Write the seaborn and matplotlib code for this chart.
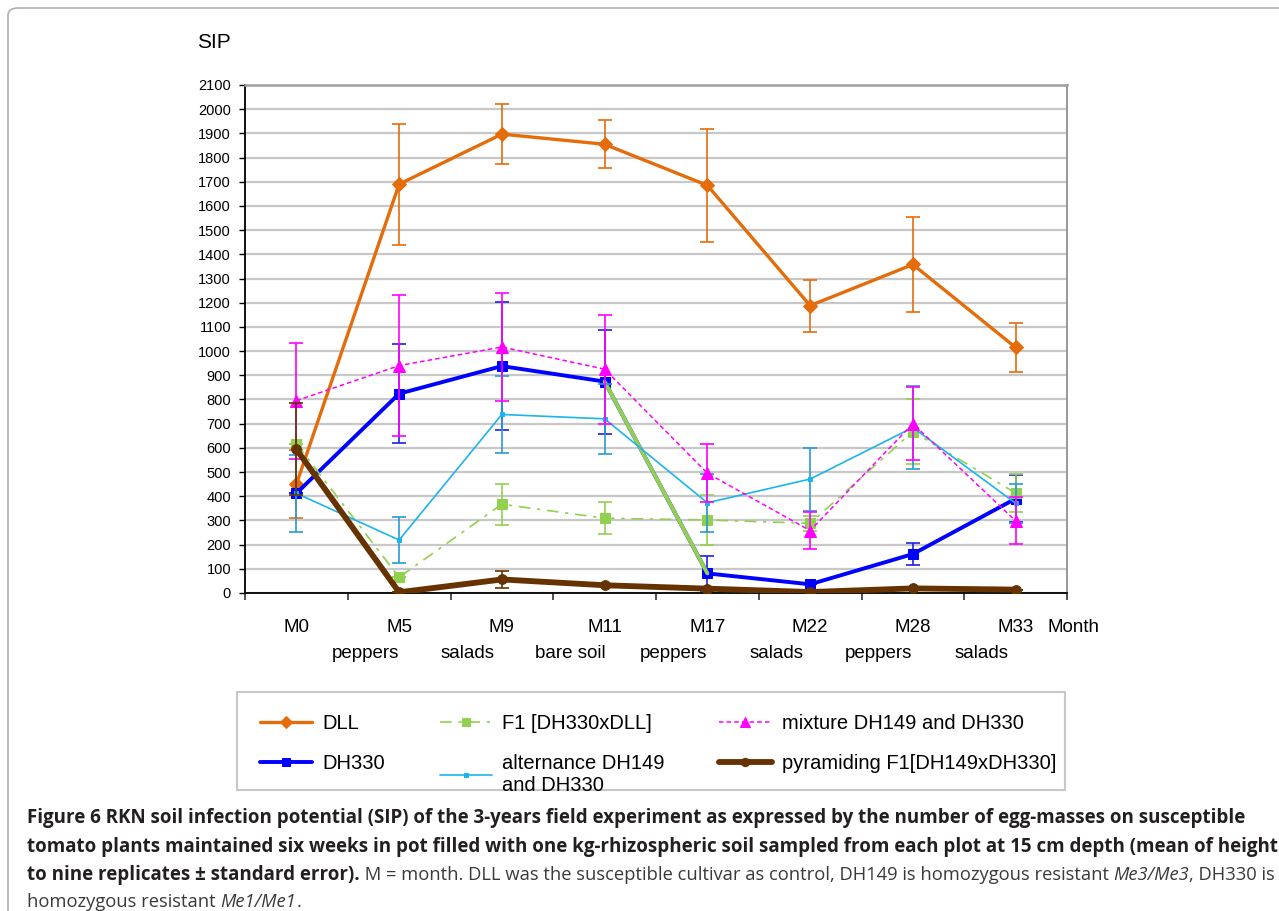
import matplotlib
matplotlib.use("Agg")
import matplotlib.pyplot as plt
from matplotlib.patches import FancyBboxPatch, Rectangle
from matplotlib import font_manager
import seaborn as sns
import numpy as np

# ---- data ----
months = ["M0", "M5", "M9", "M11", "M17", "M22", "M28", "M33"]
crops = ["peppers", "salads", "bare soil", "peppers", "salads", "peppers", "salads"]
yticks = list(range(0, 2101, 100))

dll = [450, 1690, 1897, 1855, 1685, 1188, 1358, 1015]
dll_err = [140, 250, 125, 100, 235, 107, 196, 100]
dh330 = [412, 824, 938, 874, 81, 36, 161, 390]
dh330_err = [0, 205, 265, 215, 73, 0, 46, 96]
f1 = [617, 65, 367, 309, 302, 288, 667, 413]
f1_err = [0, 0, 85, 67, 105, 30, 135, 80]
alt = [412, 219, 738, 720, 373, 471, 684, 371]
alt_err = [160, 95, 160, 145, 120, 130, 170, 80]
mix = [795, 940, 1017, 925, 495, 258, 700, 298]
mix_err = [240, 290, 225, 225, 120, 75, 150, 97]
pyr = [594, 3, 56, 32, 18, 4, 19, 14]
pyr_err = [190, 0, 35, 0, 0, 0, 0, 0]
# stray thick green segment in the original chart
f1_drop_months = ["M11", "M17"]
f1_drop = [874, 81]

W, H = 1279, 911
sns.set_theme(style="white")
plt.rcParams["font.family"] = ["Liberation Sans", "DejaVu Sans"]
plt.rcParams["text.color"] = "black"
plt.rcParams["xtick.color"] = "black"
plt.rcParams["ytick.color"] = "black"

fig = plt.figure(figsize=(W / 100, H / 100), dpi=100)
ax = fig.add_axes([245 / W, 1 - 593 / H, (1067 - 245) / W, (593 - 85) / H])

pos = np.arange(len(months))
idx = {m: i for i, m in enumerate(months)}

series = [
    # values, errors, color, errcolor, marker, ms, lw, linestyle, label
    (dll, dll_err, "#E46C0A", "#E46C0A", "D", 7, 2.4, "-", "DLL"),
    (dh330, dh330_err, "#0000FF", "#2020E0", "s", 7.5, 2.8, "-", "DH330"),
    (f1, f1_err, "#92D050", "#92D050", "s", 7, 1.2, (0, (7, 4, 2, 4)), "F1 [DH330xDLL]"),
    (alt, alt_err, "#1CB4EC", "#2A9AD8", "s", 3, 1.2, "-", "alternance DH149\nand DH330"),
    (mix, mix_err, "#FF00FF", "#FF00FF", "^", 8, 1.1, (0, (3, 2)), "mixture DH149 and DH330"),
    (pyr, pyr_err, "#663300", "#663300", "o", 7, 4.2, "-", "pyramiding F1[DH149xDH330]"),
]

for k, (vals, errs, col, ecol, mk, ms, lw, ls, lab) in enumerate(series):
    ax.errorbar(pos, vals, yerr=errs, fmt="none", ecolor=ecol, elinewidth=1.2,
                capsize=5, capthick=1.2, zorder=2 + k)
    sns.lineplot(x=pos, y=vals, ax=ax, color=col, marker=mk, markersize=ms,
                 markeredgecolor=col, linewidth=lw, linestyle=ls, label=lab,
                 zorder=3 + k)
    if lab == "F1 [DH330xDLL]":
        ax.plot([idx[m] for m in f1_drop_months], f1_drop, color=col, lw=2.8, zorder=3 + k)

handles, labels = ax.get_legend_handles_labels()
ax.get_legend().remove()

ax.set_xlim(-0.5, len(months) - 0.5)
ax.set_ylim(0, 2100)
ax.set_yticks(yticks)
ax.set_yticklabels([str(v) for v in yticks], fontsize=10.5)
ax.yaxis.grid(True, color="#c8c8c8", lw=1.6)
ax.set_axisbelow(True)
ax.tick_params(axis="y", length=4, width=1, color="black", pad=6, left=True)

ax.set_xticks(pos)
ax.set_xticklabels(months, fontsize=13.5)
ax.set_xticks(np.arange(-0.5, len(months), 1), minor=True)
ax.tick_params(axis="x", which="major", length=0, pad=19)
ax.tick_params(axis="x", which="minor", length=5, width=1.2, color="#333333", direction="out", bottom=True)
ax.set_xlabel("")
ax.set_ylabel("")

for s in ["left", "bottom"]:
    ax.spines[s].set_color("black")
    ax.spines[s].set_linewidth(1.3)
ax.spines["right"].set_color("#909090")
ax.spines["right"].set_linewidth(1.3)
ax.spines["top"].set_color("#a0a0a0")
ax.spines["top"].set_linewidth(1.8)

xt = ax.get_xaxis_transform()
for i, c in enumerate(crops):
    ax.text(i + 0.67, -(654 - 593) / 508, c, transform=xt, ha="center", va="center", fontsize=13.5)
ax.text(7.315, -(627 - 593) / 508, "Month", transform=xt, ha="left", va="center", fontsize=13.5)

fig.text(197 / W, 1 - 43 / H, "SIP", fontsize=15, ha="left", va="center")

# legend box drawn separately, legend itself frameless
fig.patches.append(Rectangle((237 / W, 1 - 790 / H), (1065 - 237) / W, 98 / H,
                             transform=fig.transFigure, fill=False,
                             edgecolor="#c8c8c8", lw=1.5))
leg = fig.legend(handles, labels, ncol=3, loc="upper left",
                 bbox_to_anchor=(260 / W, 1 - 715 / H, (1056 - 260) / W, 0.001),
                 mode="expand", fontsize=14.5, frameon=False,
                 handlelength=2.6, handletextpad=0.5, borderpad=0, borderaxespad=0,
                 labelspacing=1.05, columnspacing=1.0, markerscale=0.85)

# outer frame of the figure panel
frame = FancyBboxPatch((8 / W, -0.05), 1.2, 1 - 8 / H + 0.05, boxstyle="round,pad=0,rounding_size=0.008",
                       transform=fig.transFigure, fill=False, edgecolor="#b0b0b0", lw=1.2)
fig.patches.append(frame)

# caption
names = {f.name for f in font_manager.fontManager.ttflist}
cap_font = "Open Sans" if "Open Sans" in names else "DejaVu Sans"
lines = [
    [("Figure 6 RKN soil infection potential (SIP) of the 3-years field experiment as expressed by the number of egg-masses on susceptible", "bold", "normal")],
    [("tomato plants maintained six weeks in pot filled with one kg-rhizospheric soil sampled from each plot at 15 cm depth (mean of height", "bold", "normal")],
    [("to nine replicates \u00b1 standard error).", "bold", "normal"),
     (" M = month. DLL was the susceptible cultivar as control, DH149 is homozygous resistant ", "normal", "normal"),
     ("Me3/Me3", "normal", "italic"),
     (", DH330 is", "normal", "normal")],
    [("homozygous resistant ", "normal", "normal"), ("Me1/Me1", "normal", "italic"), (".", "normal", "normal")],
]
baselines = [823, 852, 880, 907]
renderer = fig.canvas.get_renderer()


def run_width(txt, size, wt, st):
    t = fig.text(0, 0, txt, fontsize=size, fontweight=wt, fontstyle=st, family=cap_font)
    w = t.get_window_extent(renderer).width
    t.remove()
    return w


bold_size = 13 * (1266 - 27) / run_width(lines[1][0][0], 13, "bold", "normal")
bold3 = run_width(lines[2][0][0], bold_size, "bold", "normal")
reg3 = sum(run_width(t, 13, w, s) for t, w, s in lines[2][1:])
reg_size = 13 * (1270 - 27 - bold3) / reg3

for runs, yb in zip(lines, baselines):
    x = 27
    for txt, wt, st in runs:
        size = bold_size if wt == "bold" else reg_size
        t = fig.text(x / W, 1 - yb / H, txt, fontsize=size, fontweight=wt, fontstyle=st,
                     family=cap_font, color="#231F20" if wt == "bold" else "#3a3a3a",
                     ha="left", va="baseline")
        x += t.get_window_extent(renderer).width

fig.savefig("out.png", dpi=100)
